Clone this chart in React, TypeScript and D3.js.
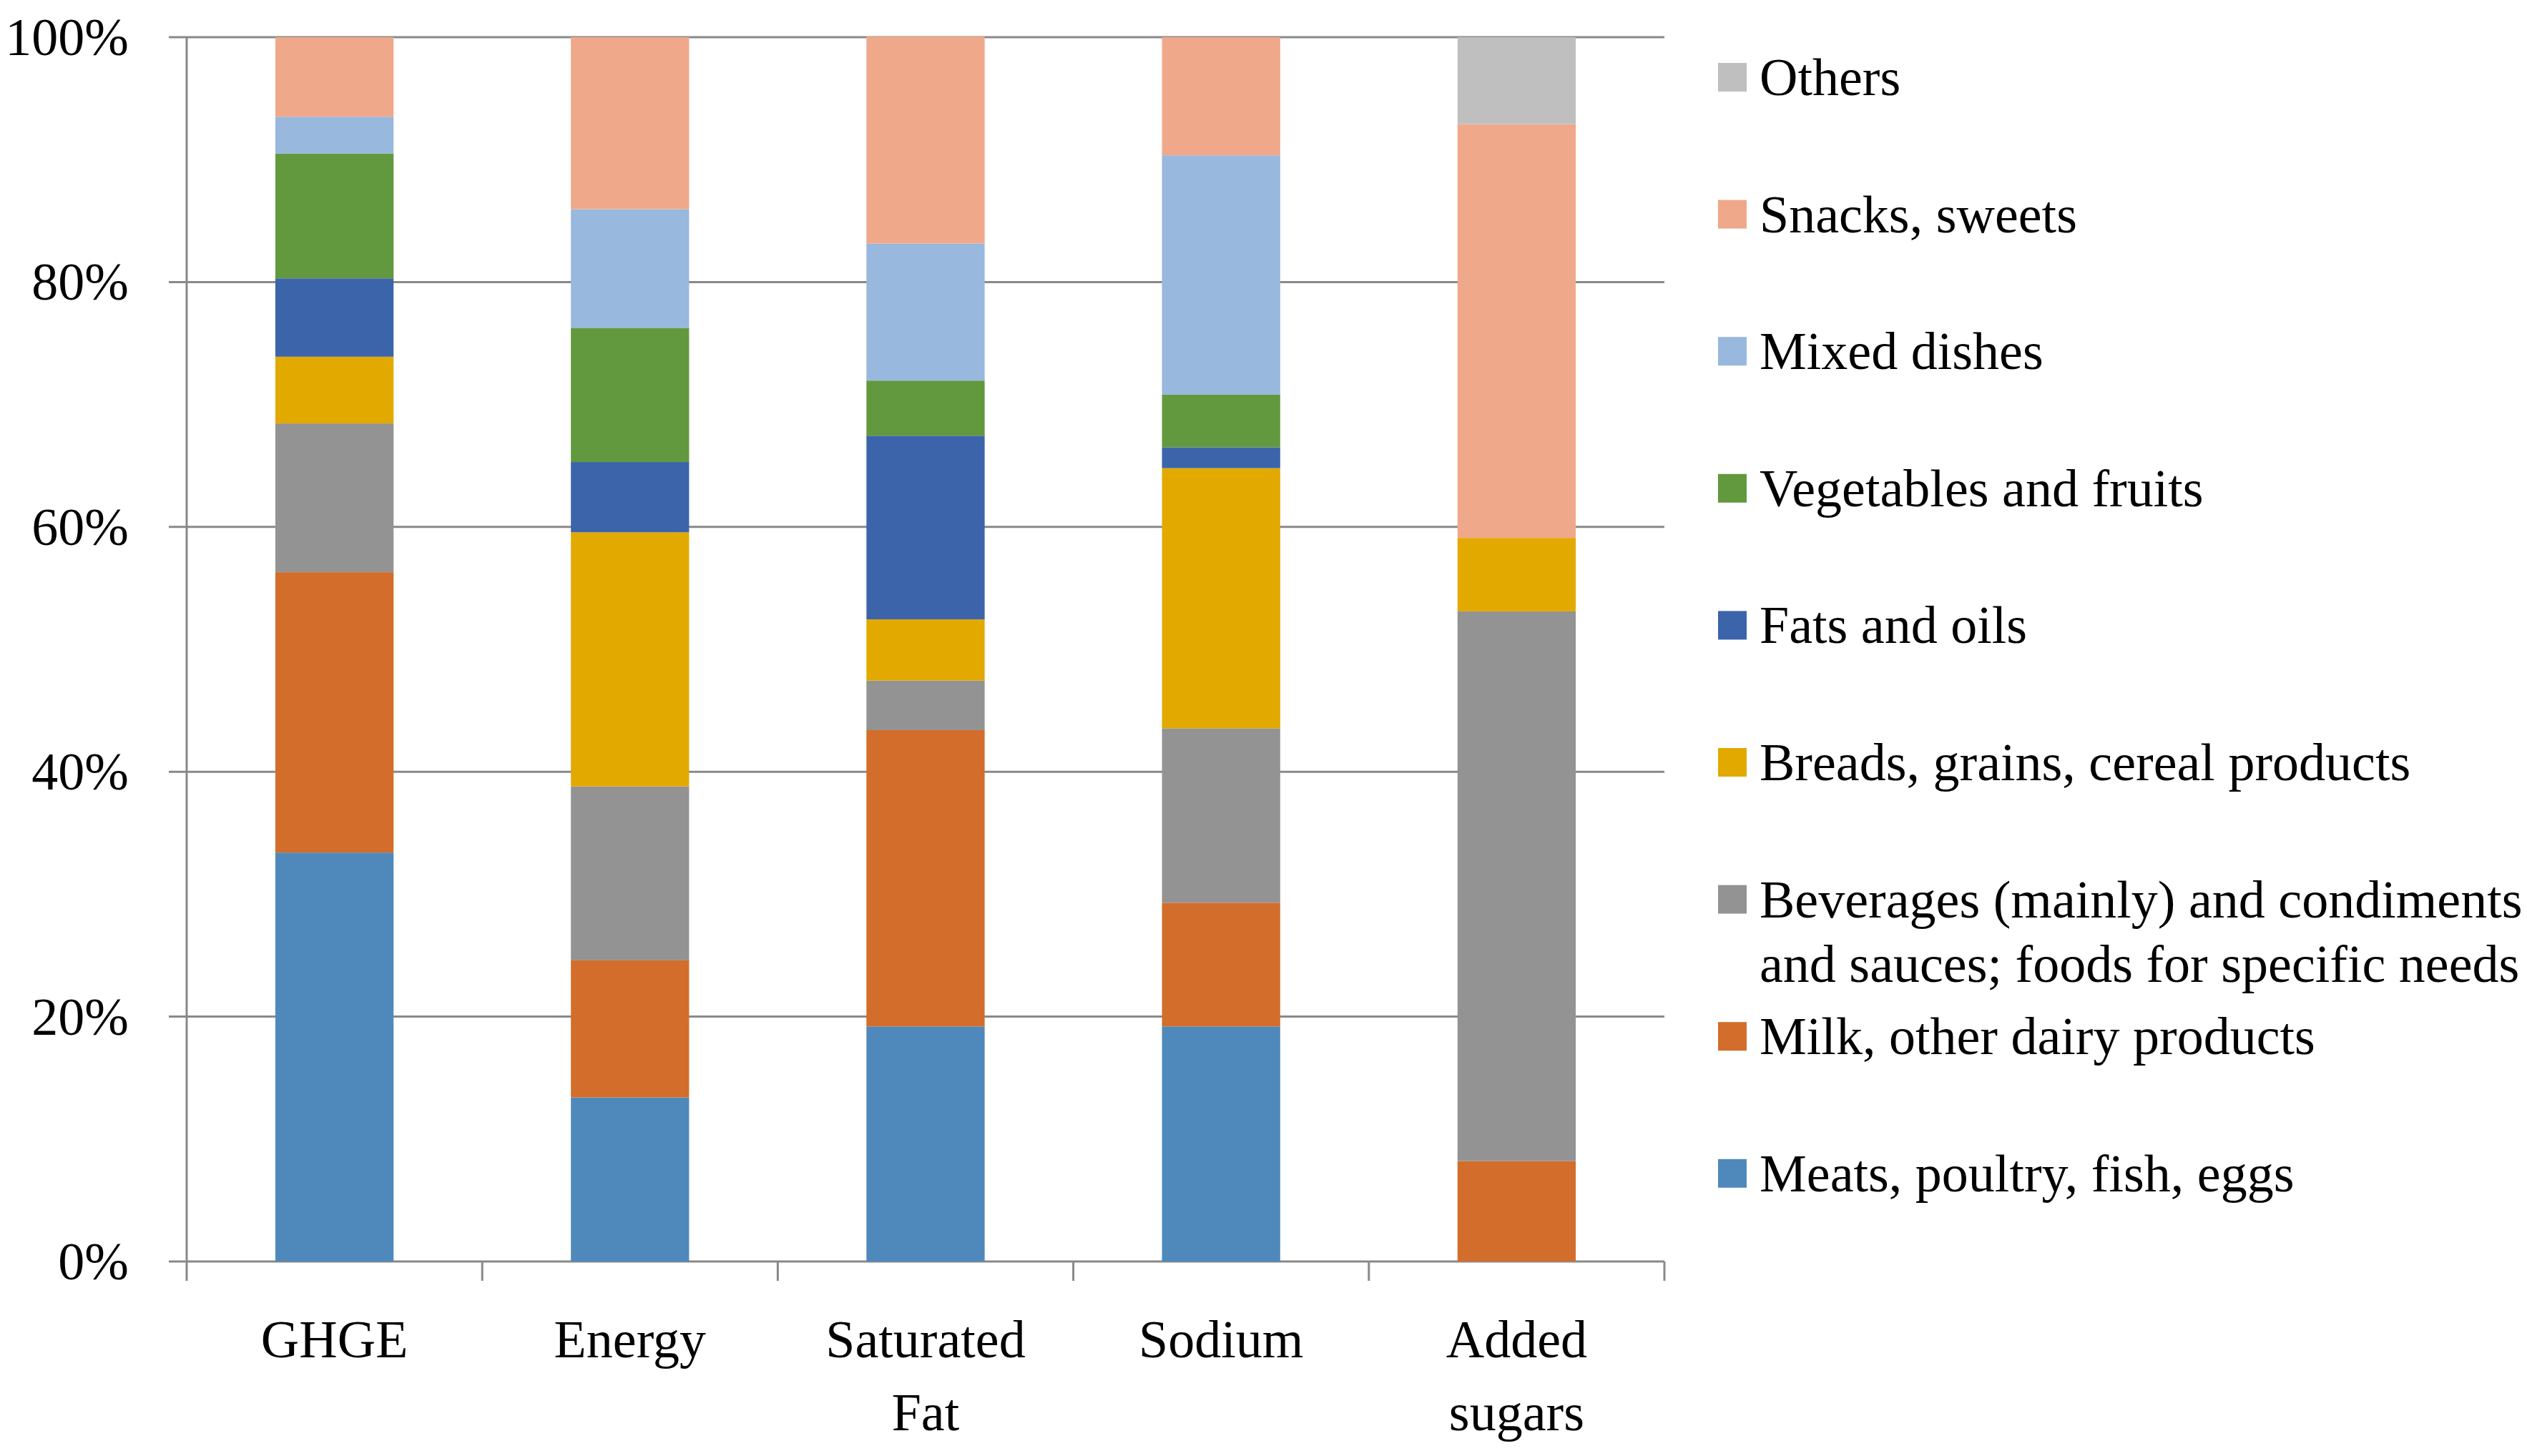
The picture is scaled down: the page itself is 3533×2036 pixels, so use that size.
import React from "react";
import * as d3 from "d3";

const categories = ["GHGE", "Energy", "Saturated Fat", "Sodium", "Added sugars"];
const categoryLines = [["GHGE"], ["Energy"], ["Saturated", "Fat"], ["Sodium"], ["Added", "sugars"]];

const seriesNames = [
  "Meats, poultry, fish, eggs",
  "Milk, other dairy products",
  "Beverages (mainly) and condiments and sauces; foods for specific needs",
  "Breads, grains, cereal products",
  "Fats and oils",
  "Vegetables and fruits",
  "Mixed dishes",
  "Snacks, sweets",
  "Others",
];

const meats = [33.4, 13.4, 19.2, 19.2, 0];
const milk = [22.9, 11.2, 24.2, 10.1, 8.2];
const beverages = [12.15, 14.2, 4.05, 14.25, 44.9];
const breads = [5.45, 20.76, 5.0, 21.25, 6.0];
const fats = [6.4, 5.74, 15.0, 1.7, 0];
const vegetables = [10.2, 10.96, 4.5, 4.3, 0];
const mixed = [3.0, 9.69, 11.2, 19.55, 0];
const snacks = [6.5, 14.05, 16.9, 9.65, 33.8];
const others = [0, 0, 0, 0, 7.1];

const seriesValues = [meats, milk, beverages, breads, fats, vegetables, mixed, snacks, others];
const colors = ["#4f89bc", "#d36d2b", "#939393", "#e2a900", "#3c64ab", "#62993e", "#98b8de", "#f0a88a", "#bfbfbf"];

const legendLines = [
  ["Meats, poultry, fish, eggs"],
  ["Milk, other dairy products"],
  ["Beverages (mainly) and condiments", "and sauces; foods for specific needs"],
  ["Breads, grains, cereal products"],
  ["Fats and oils"],
  ["Vegetables and fruits"],
  ["Mixed dishes"],
  ["Snacks, sweets"],
  ["Others"],
];

const yTicks = [0, 20, 40, 60, 80, 100];

export default function App() {
  const W = 3533, H = 2036;
  const left = 261, right = 2327, top = 52, bottom = 1764;
  const font = "'Palatino Linotype', 'Book Antiqua', Palatino, 'Liberation Serif', serif";
  const fs = 74;

  const x = d3.scaleBand<string>().domain(categories).range([left, right]).paddingInner(0.6).paddingOuter(0.3);
  const xb = d3.scaleBand<string>().domain(categories).range([left, right]);
  const y = d3.scaleLinear().domain([0, 100]).range([bottom, top]);

  const rows = categories.map((c, i) => {
    const r: any = { cat: c };
    seriesNames.forEach((s, j) => (r[s] = seriesValues[j][i]));
    return r;
  });
  const stacked = d3.stack<any>().keys(seriesNames)(rows);

  const gridColor = "#898989";
  const legendX = 2402;
  const legendY0 = 108;
  const legendStep = 191.6;
  const sq = 40;

  return (
    <svg width={W} height={H} style={{ position: "absolute", left: 0, top: 0, background: "#fff" }} fontFamily={font}>
      <rect x={0} y={0} width={W} height={H} fill="#fff" />
      {yTicks.map((t) => (
        <g key={t}>
          <line x1={left - 25} x2={right} y1={y(t)} y2={y(t)} stroke={gridColor} strokeWidth={3} />
          <text x={180} y={y(t) + 25} textAnchor="end" fontSize={fs}>{t}%</text>
        </g>
      ))}
      <line x1={left} x2={left} y1={top} y2={bottom + 27} stroke={gridColor} strokeWidth={3} />
      {categories.map((c, i) => (
        <line key={c} x1={(xb(c) as number) + xb.bandwidth()} x2={(xb(c) as number) + xb.bandwidth()} y1={bottom} y2={bottom + 27} stroke={gridColor} strokeWidth={3} />
      ))}
      {stacked.map((s, j) => (
        <g key={s.key} fill={colors[j]}>
          {s.map((d, i) => (
            d[1] - d[0] > 0 ? (
              <rect key={i} x={x(categories[i])} width={x.bandwidth()} y={y(d[1])} height={y(d[0]) - y(d[1])} />
            ) : null
          ))}
        </g>
      ))}
      {categories.map((c, i) => (
        <text key={c} textAnchor="middle" fontSize={fs}>
          {categoryLines[i].map((l, k) => (
            <tspan key={k} x={(x(c) as number) + x.bandwidth() / 2} y={1898 + k * 102}>{l}</tspan>
          ))}
        </text>
      ))}
      {seriesNames.map((s, j) => {
        const idx = seriesNames.length - 1 - j;
        const cy = legendY0 + (seriesNames.length - 1 - j) * legendStep;
        return (
          <g key={s}>
            <rect x={legendX} y={cy - sq / 2} width={sq} height={sq} fill={colors[j]} />
            <text fontSize={fs}>
              {legendLines[j].map((l, k) => (
                <tspan key={k} x={2460} y={cy + 25 + k * 90}>{l}</tspan>
              ))}
            </text>
          </g>
        );
      })}
    </svg>
  );
}
